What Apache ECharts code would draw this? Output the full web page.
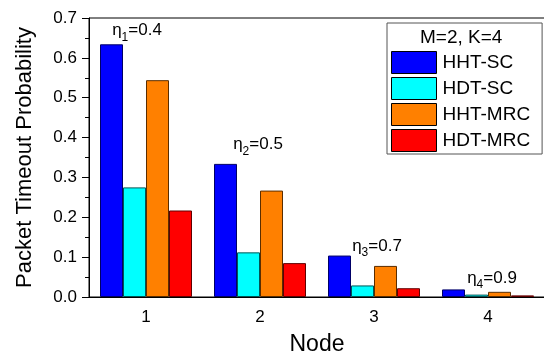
<!DOCTYPE html>
<html>
<head>
<meta charset="utf-8">
<script src="https://cdn.jsdelivr.net/npm/echarts@6/dist/echarts.min.js"></script>
<style>html,body{margin:0;padding:0;background:#fff;}#c{width:544px;height:355px;}</style>
</head>
<body>
<div id="c"></div>
<script>
var categories = ['1', '2', '3', '4'];
var seriesNames = ['HHT-SC', 'HDT-SC', 'HHT-MRC', 'HDT-MRC'];
var hhtSC  = [0.634, 0.334, 0.104, 0.019];
var hdtSC  = [0.275, 0.112, 0.029, 0.006];
var hhtMRC = [0.544, 0.267, 0.078, 0.013];
var hdtMRC = [0.217, 0.085, 0.022, 0.004];
var yTicks = ['0.0', '0.1', '0.2', '0.3', '0.4', '0.5', '0.6', '0.7'];
var etaSubs = ['1', '2', '3', '4'];
var etaValues = ['0.4', '0.5', '0.7', '0.9'];
var legendTitle = 'M=2, K=4';

var FONT = 'Liberation Sans, Arial, sans-serif';
var colors = ['#0000FF', '#00FFFF', '#FF8000', '#FF0000'];
var borders = ['#000066', '#005555', '#5a2d00', '#600000'];
var allData = [hhtSC, hdtSC, hhtMRC, hdtMRC];

var etaPos = [[0.668, -9], [0.382, -2], [0.128, 3], [0.048, 4]];
var markData = categories.map(function (c, i) {
  return {
    coord: [c, etaPos[i][0]],
    label: { offset: [etaPos[i][1], 0], formatter: '{a|η}{s|' + etaSubs[i] + '}{a|=' + etaValues[i] + '}' }
  };
});

var series = seriesNames.map(function (n, i) {
  return {
    name: n, type: 'bar', data: allData[i], barWidth: 23, barGap: '0%',
    itemStyle: { color: colors[i], borderColor: borders[i], borderWidth: 1 },
    emphasis: { disabled: true }
  };
});
series.push({
  name: 'eta', type: 'scatter', data: [], silent: true,
  markPoint: {
    symbol: 'rect', symbolSize: 0, silent: true,
    label: {
      show: true, position: 'inside', color: '#000',
      rich: {
        a: { fontFamily: FONT, fontSize: 17, color: '#000', lineHeight: 26, verticalAlign: 'middle' },
        s: { fontFamily: FONT, fontSize: 12, color: '#000', lineHeight: 26, verticalAlign: 'bottom' }
      }
    },
    data: markData
  }
});

var chart = echarts.init(document.getElementById('c'), null, { renderer: 'canvas' });
chart.setOption({
  animation: false,
  backgroundColor: '#fff',
  grid: { left: 89, top: 18, width: 456, height: 279, outerBoundsMode: 'none', containLabel: false, show: true, borderColor: '#000', borderWidth: 1, backgroundColor: 'transparent' },
  legend: {
    data: seriesNames, orient: 'vertical', left: 387, top: 23,
    padding: [28, 12, 2, 4], itemWidth: 45, itemHeight: 22, itemGap: 3,
    icon: 'rect', borderColor: '#555', borderWidth: 1,
    itemStyle: { borderColor: '#000', borderWidth: 1 },
    textStyle: { fontFamily: FONT, fontSize: 19, color: '#000', padding: [0, 0, 0, 1] },
    selectedMode: false
  },
  graphic: [{
    type: 'text', left: 420, top: 28,
    style: { text: legendTitle, fontFamily: FONT, fontSize: 19, fill: '#000' }
  }],
  xAxis: [{
    type: 'category', data: categories, position: 'bottom',
    name: 'Node', nameLocation: 'middle', nameGap: 36,
    nameTextStyle: { fontFamily: FONT, fontSize: 23, color: '#000' },
    axisLine: { lineStyle: { color: '#000', width: 1 } },
    axisTick: { alignWithLabel: true, length: 8, lineStyle: { color: '#000' } },
    axisLabel: { fontFamily: FONT, fontSize: 17, color: '#000', margin: 12 }
  }, {
    type: 'category', data: categories, position: 'bottom',
    axisLine: { show: false },
    axisTick: { length: 5, lineStyle: { color: '#000' } },
    axisLabel: { show: false }
  }],
  yAxis: {
    type: 'value', min: 0, max: 0.7, interval: 0.1,
    name: 'Packet Timeout Probability', nameLocation: 'middle', nameGap: 53,
    nameTextStyle: { fontFamily: FONT, fontSize: 22, color: '#000' },
    axisLine: { show: true, lineStyle: { color: '#000', width: 1 } },
    axisTick: { show: true, length: 7, lineStyle: { color: '#000' } },
    minorTick: { show: true, splitNumber: 2, length: 4, lineStyle: { color: '#000' } },
    splitLine: { show: false },
    axisLabel: {
      fontFamily: FONT, fontSize: 17, color: '#000', margin: 12,
      formatter: function (v) { return yTicks[Math.round(v * 10)]; }
    }
  },
  series: series
});
</script>
</body>
</html>
